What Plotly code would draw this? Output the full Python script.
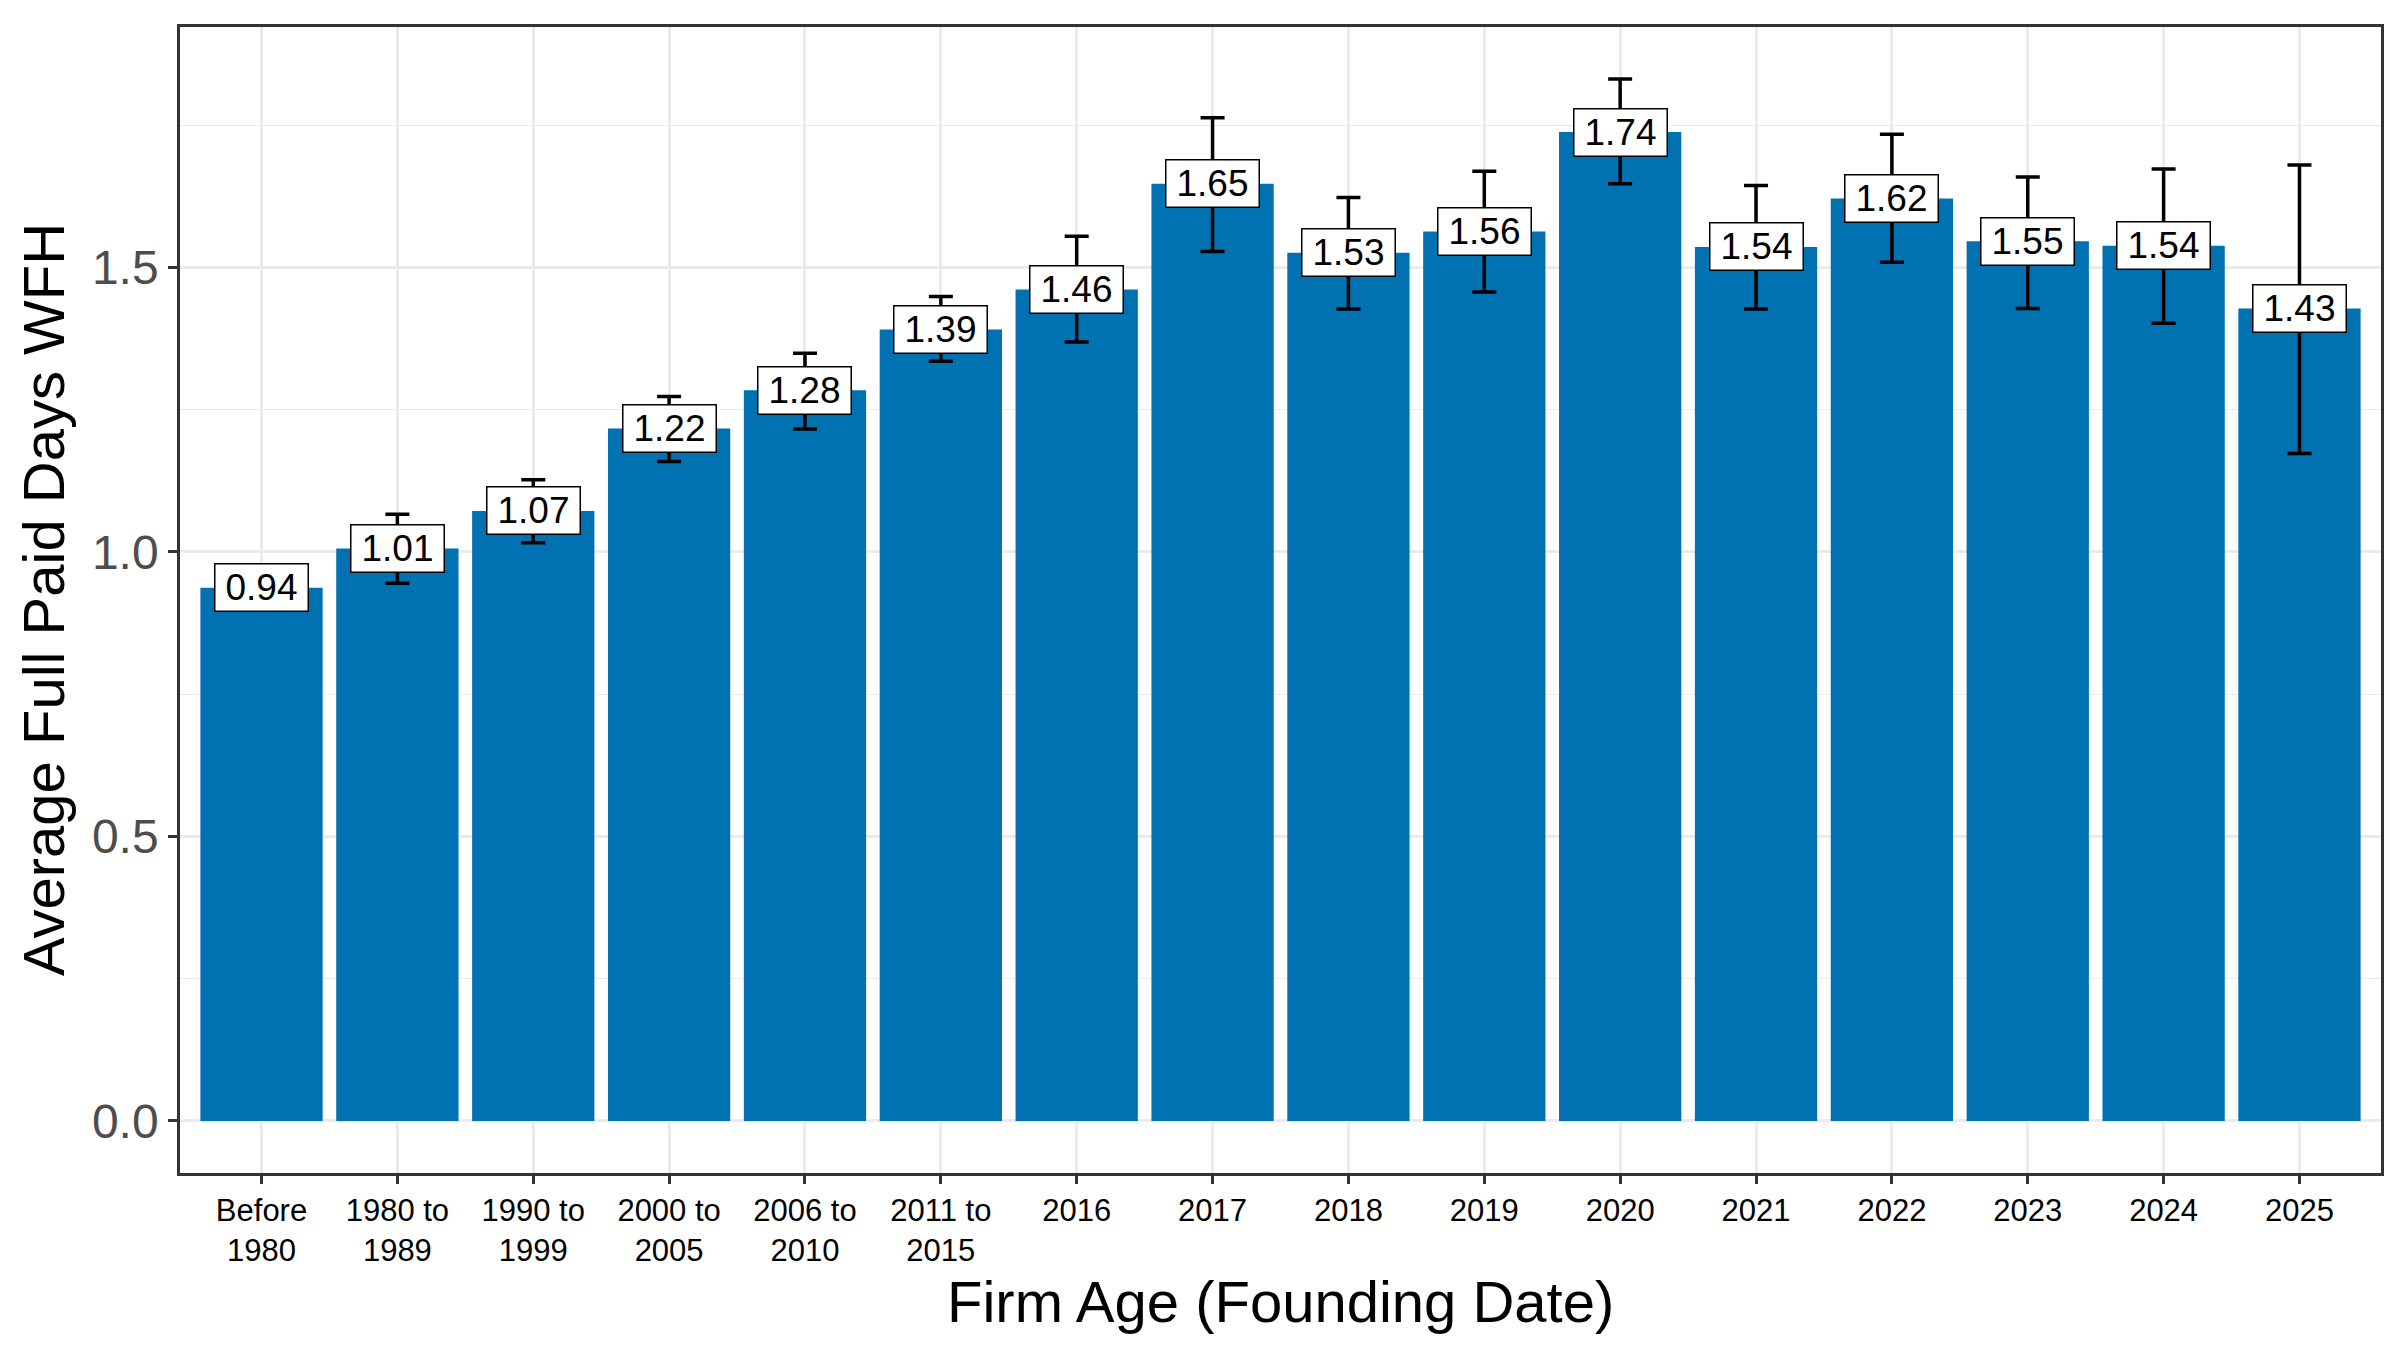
import plotly.graph_objects as go

categories = ["Before<br>1980", "1980 to<br>1989", "1990 to<br>1999", "2000 to<br>2005",
              "2006 to<br>2010", "2011 to<br>2015", "2016", "2017", "2018", "2019",
              "2020", "2021", "2022", "2023", "2024", "2025"]
values = [0.937, 1.006, 1.072, 1.217, 1.284, 1.391, 1.461, 1.647, 1.526, 1.563,
          1.738, 1.536, 1.621, 1.546, 1.538, 1.428]
upper = [0.965, 1.066, 1.127, 1.273, 1.349, 1.449, 1.555, 1.763, 1.623, 1.669,
         1.831, 1.644, 1.734, 1.659, 1.673, 1.680]
lower = [0.909, 0.945, 1.016, 1.159, 1.216, 1.335, 1.369, 1.528, 1.427, 1.457,
         1.647, 1.427, 1.509, 1.428, 1.402, 1.173]
y_ticks = [0.0, 0.5, 1.0, 1.5]
x_title = "Firm Age (Founding Date)"
y_title = "Average Full Paid Days WFH"

FONT = "Liberation Sans, Arial, sans-serif"
BLUE = "#0072B2"

err_plus = [u - v for u, v in zip(upper, values)]
err_minus = [v - l for v, l in zip(values, lower)]

fig = go.Figure()
fig.add_trace(go.Bar(
    x=list(range(len(categories))), y=values, width=0.9,
    marker=dict(color=BLUE, line=dict(width=0)),
    error_y=dict(type="data", array=err_plus, arrayminus=err_minus,
                 color="black", thickness=3.5, width=12, visible=True),
    showlegend=False, hoverinfo="skip",
))

ymax = max(upper)
pad = ymax * 0.05

annotations = []
for i, v in enumerate(values):
    annotations.append(dict(
        x=i, y=v, xref="x", yref="y", text=f"{v:.2f}", showarrow=False,
        font=dict(family=FONT, size=37, color="black"),
        bgcolor="white", bordercolor="black", borderwidth=1.5, borderpad=2,
        width=88, height=42, xanchor="center", yanchor="middle",
    ))

annotations.append(dict(
    x=0.5, y=-0.112, xref="paper", yref="paper", text=x_title, showarrow=False,
    font=dict(family=FONT, size=58, color="black"), xanchor="center", yanchor="middle"))
annotations.append(dict(
    x=-0.0622, y=0.5, xref="paper", yref="paper", text=y_title, showarrow=False,
    textangle=-90, font=dict(family=FONT, size=58, color="black"),
    xanchor="center", yanchor="middle"))

fig.update_layout(
    width=2400, height=1350,
    margin=dict(l=172, r=27, t=19, b=185),
    paper_bgcolor="white", plot_bgcolor="white",
    font=dict(family=FONT),
    annotations=annotations,
    bargap=0.1,
)

fig.update_xaxes(
    tickmode="array", tickvals=list(range(len(categories))), ticktext=categories,
    range=[-0.6, len(categories) - 0.4],
    showgrid=True, gridcolor="#EBEBEB", gridwidth=2.5,
    ticks="outside", ticklen=8, tickwidth=2.5, tickcolor="#333333",
    tickfont=dict(family=FONT, size=31, color="black"),
    showline=True, linecolor="#333333", linewidth=2.5, mirror=True,
    zeroline=False,
)
fig.update_yaxes(
    range=[-pad, ymax + pad],
    tickmode="array", tickvals=y_ticks, ticktext=[f"{t:.1f}" for t in y_ticks],
    showgrid=True, gridcolor="#EBEBEB", gridwidth=2.5,
    minor=dict(tickmode="array", tickvals=[0.25, 0.75, 1.25, 1.75],
               showgrid=True, gridcolor="#EBEBEB", gridwidth=1.2, ticks=""),
    ticks="outside", ticklen=9, tickwidth=2.5, tickcolor="#333333",
    tickfont=dict(family=FONT, size=48, color="#4D4D4D"),
    showline=True, linecolor="#333333", linewidth=2.5, mirror=True,
    zeroline=False,
)

fig.write_html("out.html")
